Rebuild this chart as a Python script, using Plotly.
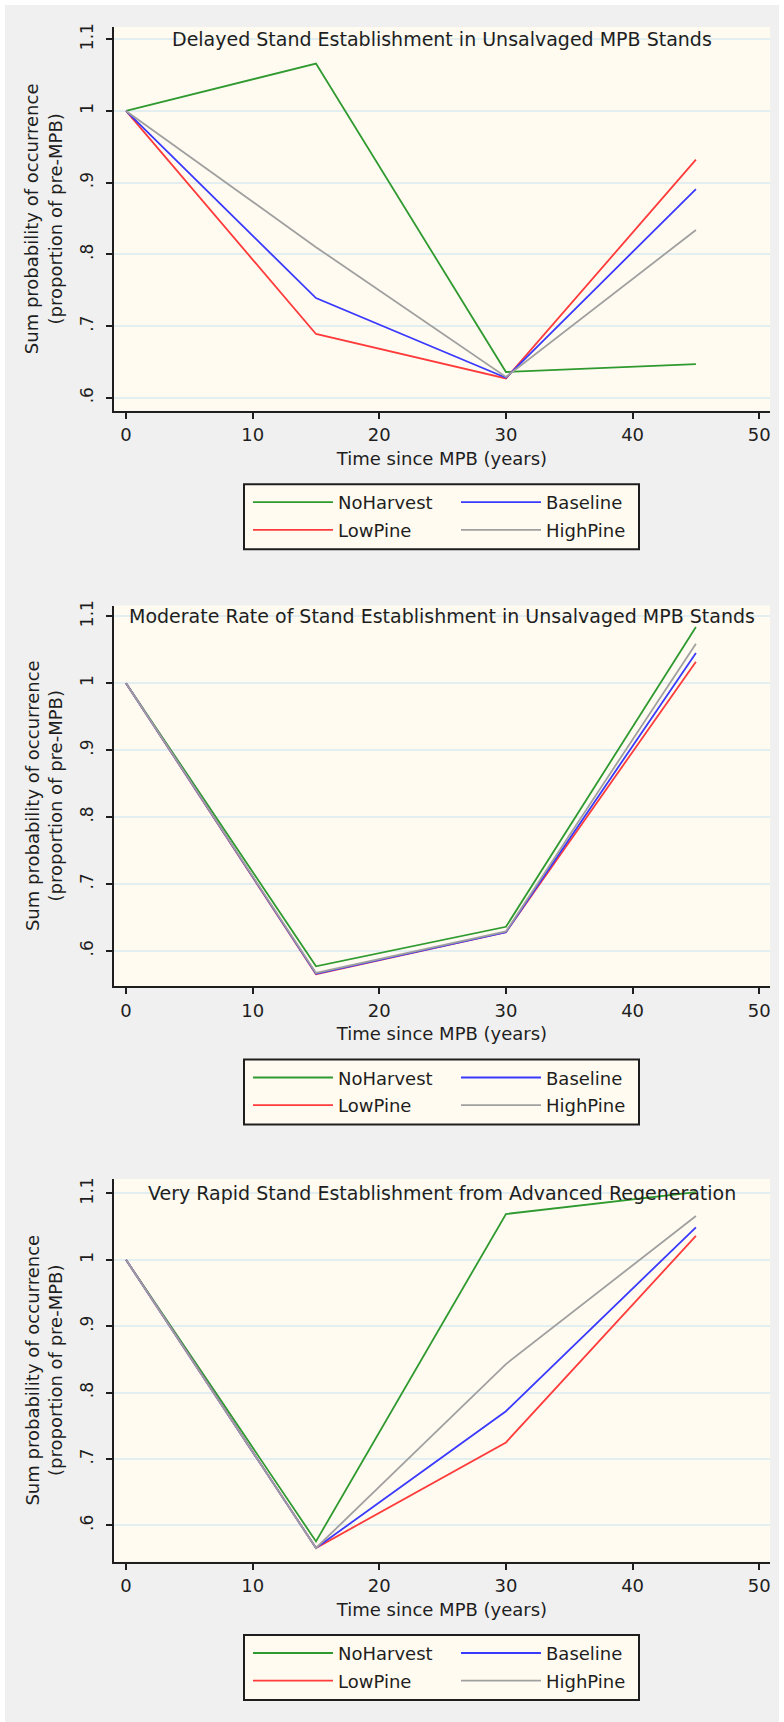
import plotly.graph_objects as go

W, H = 784, 1722

# ---------------- data ----------------
years = [0, 15, 30, 45]
scenarios = ["NoHarvest", "LowPine", "Baseline", "HighPine"]
colors = {"NoHarvest": "#2f9a2f", "LowPine": "#ff3b3b", "Baseline": "#3a3aff", "HighPine": "#a0a0a0"}

titles = [
    "Delayed Stand Establishment in Unsalvaged MPB Stands",
    "Moderate Rate of Stand Establishment in Unsalvaged MPB Stands",
    "Very Rapid Stand Establishment from Advanced Regeneration",
]

# panel 1: delayed
p1_noharvest = [1.0, 1.066, 0.636, 0.647]
p1_lowpine = [1.0, 0.689, 0.627, 0.932]
p1_baseline = [1.0, 0.739, 0.628, 0.891]
p1_highpine = [1.0, 0.810, 0.629, 0.834]

# panel 2: moderate
p2_noharvest = [1.0, 0.577, 0.636, 1.084]
p2_lowpine = [1.0, 0.565, 0.628, 1.032]
p2_baseline = [1.0, 0.566, 0.628, 1.045]
p2_highpine = [1.0, 0.567, 0.629, 1.059]

# panel 3: very rapid
p3_noharvest = [1.0, 0.576, 1.069, 1.102]
p3_lowpine = [1.0, 0.566, 0.725, 1.036]
p3_baseline = [1.0, 0.566, 0.772, 1.049]
p3_highpine = [1.0, 0.566, 0.843, 1.066]

panels = [
    {"NoHarvest": p1_noharvest, "LowPine": p1_lowpine, "Baseline": p1_baseline, "HighPine": p1_highpine},
    {"NoHarvest": p2_noharvest, "LowPine": p2_lowpine, "Baseline": p2_baseline, "HighPine": p2_highpine},
    {"NoHarvest": p3_noharvest, "LowPine": p3_lowpine, "Baseline": p3_baseline, "HighPine": p3_highpine},
]

x_ticks = [0, 10, 20, 30, 40, 50]
y_ticks = [0.6, 0.7, 0.8, 0.9, 1.0, 1.1]
y_ticktext = [".6", ".7", ".8", ".9", "1", "1.1"]
x_title = "Time since MPB (years)"
y_title = "Sum probability of occurrence<br>(proportion of pre-MPB)"

# ---------------- layout geometry (pixels) ----------------
plot_left, plot_right = 114, 770
panel_top = [27, 605.5, 1179]
panel_bottom = [410.7, 986, 1561.5]
y_ranges = [[0.582, 1.117], [0.5475, 1.116], [0.5457, 1.1217]]
x_range = [-0.95, 50.85]
legend_box_left, legend_box_right = 244, 639

FONT = "DejaVu Sans"
INK = "#1e1e1e"
GREY = "#f0f0f0"
CREAM = "#fffbf0"


def fx(px):
    return px / W


def fy(py):
    return 1 - py / H


fig = go.Figure()
layout = dict(
    width=W, height=H,
    margin=dict(l=0, r=0, t=0, b=0),
    paper_bgcolor=GREY,
    plot_bgcolor=CREAM,
    font=dict(family=FONT, size=18, color=INK),
    showlegend=True,
    shapes=[], annotations=[],
)

# thin white border around the grey graph region (top, left, right)
for x0, x1, y0, y1 in ((0, 5, 0, H), (0, W, 0, 5), (779, W, 0, H)):
    layout["shapes"].append(dict(type="rect", xref="paper", yref="paper",
                                 x0=fx(x0), x1=fx(x1), y0=fy(y1), y1=fy(y0),
                                 fillcolor="white", line=dict(width=0), layer="below"))

for i, data in enumerate(panels):
    k = i + 1
    xa = "x" if k == 1 else f"x{k}"
    ya = "y" if k == 1 else f"y{k}"
    leg_a = "legend" if k == 1 else f"legend{2 * k - 1}"
    leg_b = f"legend{2 * k}"
    for s in scenarios:
        fig.add_trace(go.Scatter(
            x=years, y=data[s], mode="lines", name=s,
            line=dict(color=colors[s], width=1.8),
            xaxis=xa, yaxis=ya,
            legend=leg_a if s in ("NoHarvest", "Baseline") else leg_b,
            hoverinfo="skip",
        ))
    top, bot = panel_top[i], panel_bottom[i]
    layout[f"xaxis{'' if k == 1 else k}"] = dict(
        domain=[fx(plot_left), fx(plot_right)], anchor=ya, range=x_range,
        tickmode="array", tickvals=x_ticks, ticks="outside", ticklen=6, tickwidth=1.5,
        tickcolor=INK, showline=True, linecolor=INK, linewidth=2, showgrid=False,
        zeroline=False, tickfont=dict(family=FONT, size=18, color=INK),
        ticklabelstandoff=1,
        title=dict(text=x_title, font=dict(family=FONT, size=18, color=INK), standoff=8),
        automargin=False, fixedrange=True,
    )
    layout[f"yaxis{'' if k == 1 else k}"] = dict(
        domain=[fy(bot), fy(top)], anchor=xa, range=y_ranges[i],
        tickmode="array", tickvals=y_ticks, ticktext=y_ticktext, tickangle=-90,
        ticks="outside", ticklen=6, tickwidth=1.5, tickcolor=INK,
        showline=True, linecolor=INK, linewidth=2,
        showgrid=True, gridcolor="#e3eef0", gridwidth=1.5, zeroline=False,
        tickfont=dict(family=FONT, size=17, color=INK),
        ticklabelstandoff=6,
        title=dict(text=y_title, font=dict(family=FONT, size=18, color=INK), standoff=10),
        automargin=False, fixedrange=True,
    )
    # panel title inside the plot region, on the 1.1 line
    layout["annotations"].append(dict(
        text=titles[i], xref=f"{xa} domain", yref=ya, x=0.5, y=1.1,
        xanchor="center", yanchor="middle", showarrow=False,
        font=dict(family=FONT, size=19, color=INK)))
    # legend frame
    box_top = bot + 73.5
    box_bot = box_top + 65
    layout["shapes"].append(dict(type="rect", xref="paper", yref="paper",
                                 x0=fx(legend_box_left), x1=fx(legend_box_right),
                                 y0=fy(box_bot), y1=fy(box_top),
                                 fillcolor=CREAM, line=dict(color=INK, width=2), layer="below"))
    for name, row_y in ((leg_a, box_top + 18.3), (leg_b, box_top + 46)):
        layout[name] = dict(
            orientation="h", x=fx(248), xanchor="left", y=fy(row_y), yanchor="middle",
            bgcolor="rgba(0,0,0,0)", borderwidth=0, itemwidth=80,
            entrywidth=113, entrywidthmode="pixels", traceorder="normal",
            font=dict(family=FONT, size=18, color=INK), itemclick=False, itemdoubleclick=False,
        )

fig.update_layout(**layout)
fig.write_html(
    "out.html",
    config={"displayModeBar": False},
    post_script="document.body.style.margin='0';document.documentElement.style.overflow='hidden';document.body.style.overflow='hidden';",
)
